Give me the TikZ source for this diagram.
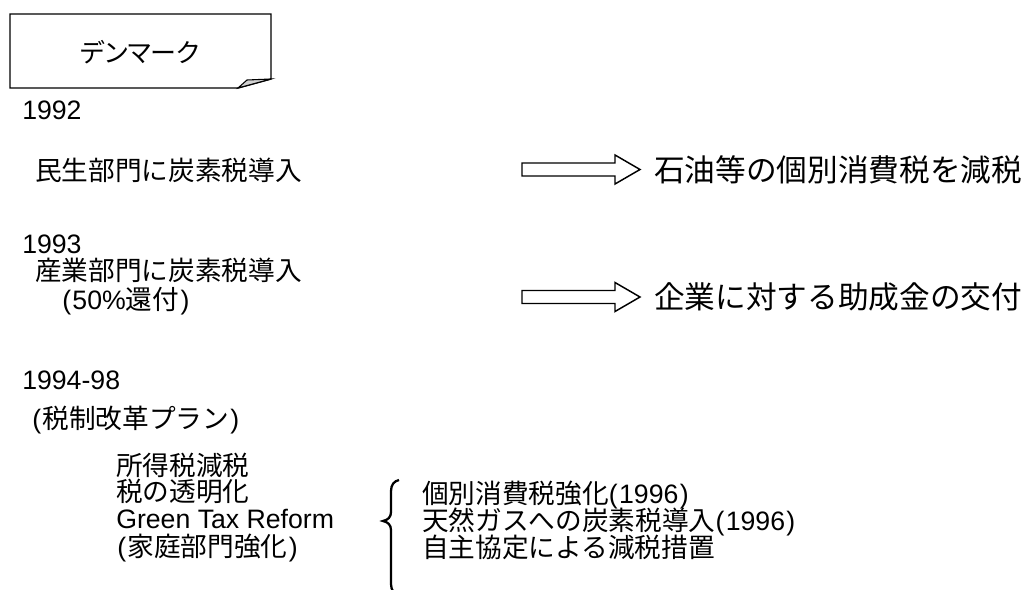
\documentclass[tikz,border=0pt]{standalone}
\usepackage{fontspec}
\setmainfont{Liberation Sans}
\newfontfamily\jp{Noto Sans CJK JP}
\newfontfamily\jpp[RawFeature=+palt]{Noto Sans CJK JP}
\tikzset{
  txt/.style={inner sep=0pt, anchor=base west, font=\fontsize{20}{24}\selectfont},
  bigtxt/.style={txt, font=\fontsize{23}{27}\selectfont},
  boxline/.style={draw=black, line width=1.1pt, line join=miter},
  foldpart/.style={draw=black, fill=black!18, line width=0.8pt},
  barrow/.style={draw=black, fill=white, line width=1.1pt, line join=miter},
  bracestyle/.style={draw=black, line width=1.7pt},
  pics/blockarrow/.style={code={
    \draw[barrow] (0,-6.5) -- (93,-6.5) -- (93,-14.5) -- (118,0) -- (93,14.5) -- (93,6.5) -- (0,6.5) -- cycle;}}
}
\begin{document}
\begin{tikzpicture}[x=0.75pt,y=-0.75pt]
\useasboundingbox (0,0) rectangle (1030,589);
% title box with folded corner
\draw[boxline] (10,14) -- (271,14) -- (271,79) -- (238,88) -- (10,88) -- cycle;
\filldraw[foldpart] (238,88) -- (247,80) -- (271,79) -- cycle;
\node[txt, anchor=base, font=\fontsize{19.5}{23}\selectfont] (title) at (140,62) {\jpp デンマーク};

% 1992
\node[txt] (y92) at (22,119) {1992};
\node[txt] (t92) at (35,180) {\jp 民生部門に炭素税導入};
\coordinate (a92) at (522,169.5);
\pic at (a92) {blockarrow};
\node[bigtxt] (r92) at (654,181) {\jp 石油等の個別消費税を減税};

% 1993
\node[txt] (y93) at (22,253) {1993};
\node[txt] (t93) at (35,280) {\jp 産業部門に炭素税導入};
\node[txt] (t93b) at (62,309) {(\kern1pt 50\%{\jp 還付}\kern1pt)};
\coordinate (a93) at (522,297);
\pic at (a93) {blockarrow};
\node[bigtxt] (r93) at (654,308) {\jp 企業に対する助成金の交付};

% 1994-98
\node[txt] (y94) at (22,389) {1994-98};
\node[txt] (plan) at (32,428) {(\kern1pt{\jp 税制改革プラン}\kern1pt)};
\node[txt] (l1) at (116,475) {\jp 所得税減税};
\node[txt] (l2) at (116,501) {\jp 税の透明化};
\node[txt] (l3) at (116,528) {Green Tax Reform};
\node[txt] (l4) at (117,556) {(\kern1pt{\jp 家庭部門強化}\kern1pt)};

\begin{scope}
\clip (0,0) rectangle (1030,589);
\draw[bracestyle] (399,480) .. controls (394,481) and (391,485) .. (391,491) -- (391,512)
  .. controls (391,517) and (388,520) .. (383,521)
  .. controls (388,522) and (391,525) .. (391,530) -- (391,584)
  .. controls (391,590) and (394,594) .. (399,595);
\end{scope}

\node[txt] (m1) at (422,503) {{\jp 個別消費税強化}(\kern1pt 1996\kern1pt)};
\node[txt] (m2) at (422,530) {{\jp 天然ガスへの炭素税導入}(\kern1pt 1996\kern1pt)};
\node[txt] (m3) at (422,557) {\jp 自主協定による減税措置};
\end{tikzpicture}
\end{document}
